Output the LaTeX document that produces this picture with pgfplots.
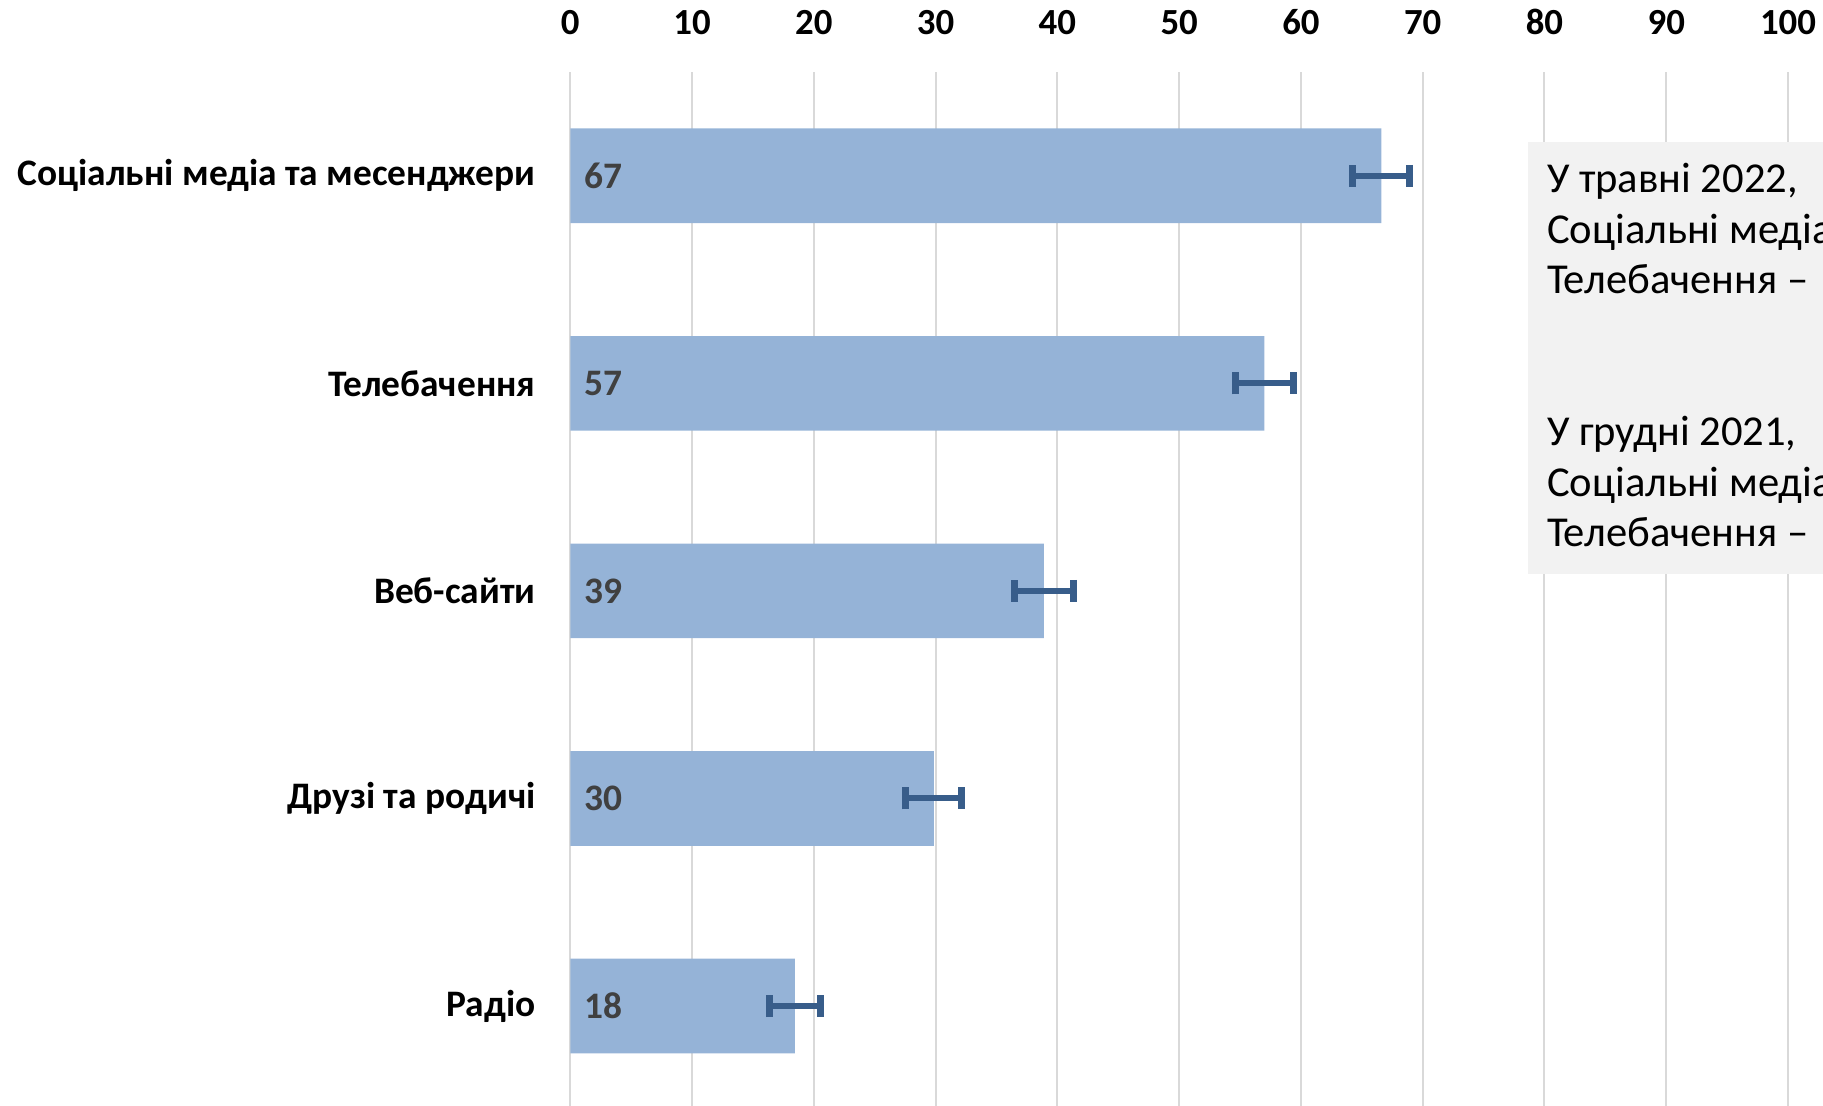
\documentclass[border=0pt]{standalone}
\usepackage{pgfplots}
\pgfplotsset{compat=1.18}
\usepackage{fontspec}
\setmainfont{Carlito}
\definecolor{barc}{HTML}{95B3D7}
\definecolor{errc}{HTML}{385D8A}
\definecolor{gridc}{HTML}{D9D9D9}
\definecolor{lblc}{HTML}{404040}
\definecolor{boxc}{HTML}{F2F2F2}
\begin{document}
\begin{tikzpicture}
\useasboundingbox (0,0) rectangle (911.5pt,-553pt);
\clip (0,0) rectangle (911.5pt,-553pt);
\begin{axis}[
  at={(285.15pt,-554.9pt)}, anchor=south west,
  scale only axis, width=608.85pt, height=518.9pt,
  xmin=0, xmax=100, ymin=-0.5, ymax=4.5,
  xtick={0,10,...,100},
  ytick={0,1,2,3,4},
  yticklabels={Радіо, Друзі та родичі, Веб-сайти, Телебачення, Соціальні медіа та месенджери},
  xticklabel pos=upper,
  axis line style={draw=none},
  major tick length=0pt,
  xmajorgrids, grid style={gridc, line width=1pt},
  /pgf/number format/assume math mode=true,
  xticklabel style={font=\bfseries\fontsize{18.4}{21}\selectfont, anchor=base, inner sep=0pt, yshift=18.8pt},
  yticklabel style={font=\bfseries\fontsize{18.7}{21}\selectfont, anchor=east, inner sep=0pt, xshift=-17.2pt},
  clip=false,
]
\addplot[xbar, bar width=47.3pt, fill=barc, draw=none, bar shift=0pt,
  error bars/.cd, x dir=both, x explicit, error mark=|,
  error bar style={line width=3pt, color=errc},
  error mark options={line width=3.5pt, mark size=5.5pt, color=errc, solid}]
  coordinates {
  (66.6,4) +- (2.35,0)
  (57.0,3) +- (2.4,0)
  (38.9,2) +- (2.4,0)
  (29.85,1) +- (2.3,0)
  (18.45,0) +- (2.1,0)
  };
\addplot[draw=none, mark=none, nodes near coords, point meta=explicit symbolic,
  nodes near coords style={anchor=west, inner sep=0pt, xshift=6.9pt, text=lblc, font=\bfseries\fontsize{18.7}{21}\selectfont}]
  coordinates {
  (0,4) [67]
  (0,3) [57]
  (0,2) [39]
  (0,1) [30]
  (0,0) [18]
  };
\end{axis}
\fill[boxc] (764pt,-71pt) rectangle (920pt,-287pt);
\begin{scope}[every node/.style={anchor=base west, inner sep=0pt, font=\fontsize{21.3}{25.3}\selectfont}]
\node at (773.3pt,-96.35pt) {У травні 2022,};
\node at (773.3pt,-121.65pt) {Соціальні медіа};
\node at (773.3pt,-146.95pt) {Телебачення –};
\node at (773.3pt,-222.85pt) {У грудні 2021,};
\node at (773.3pt,-248.15pt) {Соціальні медіа};
\node at (773.3pt,-273.45pt) {Телебачення –};
\end{scope}
\end{tikzpicture}
\end{document}
